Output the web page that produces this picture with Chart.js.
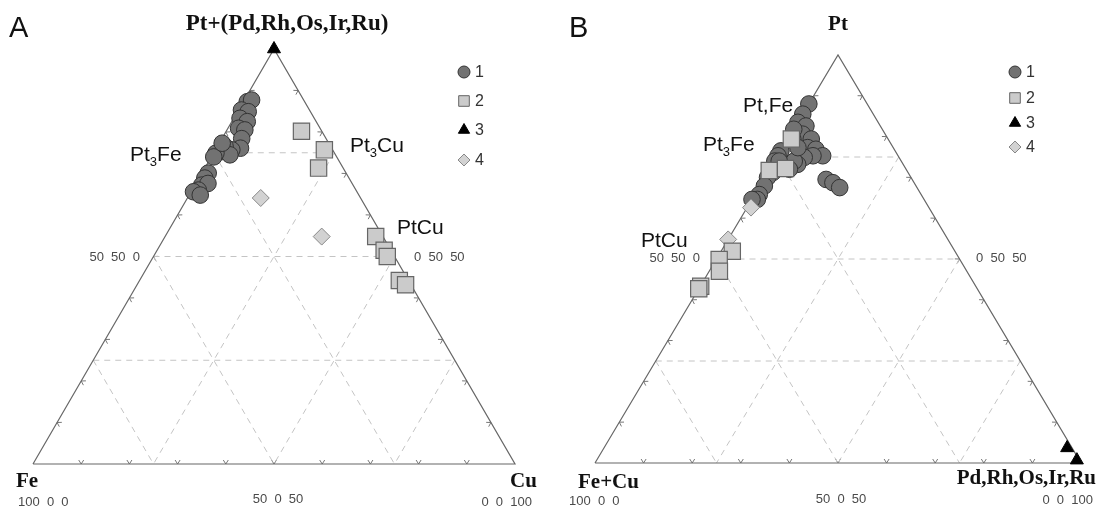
<!DOCTYPE html>
<html><head><meta charset="utf-8">
<script src="https://cdn.jsdelivr.net/npm/chart.js@4/dist/chart.umd.min.js"></script>
<style>
html,body{margin:0;padding:0;background:#fff;overflow:hidden}
#wrap{position:relative;width:1102px;height:510px;background:#fff}
canvas{position:absolute;top:0}
#cA{left:0}
#cB{left:551px}
</style></head><body>
<div id="wrap"><canvas id="cA" width="551" height="510"></canvas><canvas id="cB" width="551" height="510"></canvas></div>
<script>
// ---------- DATA (ternary compositions, %) ----------
const gridLevels = [25, 50, 75];
const tickLevels = [10, 20, 30, 40, 50, 60, 70, 80, 90];
const legendLabels = ['1', '2', '3', '4'];

// Panel A: [Pt+(Pd,Rh,Os,Ir,Ru), Fe, Cu]
const aSeries1 = [
  [87.3,11.9,0.8],[87.7,10.8,1.5],[85.3,14.1,0.6],[84.9,12.9,2.2],[83.3,15.4,1.3],
  [82.5,14.3,3.2],[80.9,16.9,2.2],[80.5,15.8,3.7],[78.4,17.5,4.1],[76.1,18.9,5.0],
  [75.7,20.9,3.4],[76.5,21.9,1.6],[75.3,23.1,1.6],[74.5,21.9,3.6],[74.9,24.6,0.5],
  [74.0,25.5,0.5],[77.3,22.1,0.6],[70.1,28.6,1.3],[68.9,29.9,1.2],[67.2,31.4,1.4],
  [67.6,29.9,2.5],[66.0,32.7,1.3],[65.6,33.9,0.5],[64.8,32.9,2.3]
];
const aSeries2 = [
  [80.2,4.2,15.6],[75.7,1.7,22.6],[71.3,5.1,23.6],[54.8,1.5,43.7],
  [51.5,1.4,47.1],[50.0,1.5,48.5],[44.2,1.9,53.9],[43.2,1.1,55.7]
];
const aSeries3 = [[100,0,0]];
const aSeries4 = [[64.1,20.7,15.2],[54.8,12.7,32.5]];

// Panel B: [Pt, Fe+Cu, Pd,Rh,Os,Ir,Ru]
const bSeries1 = [
  [88.0,12.0,0.0],[85.5,14.5,0.0],[83.5,16.5,0.0],[82.6,15.3,2.1],[80.6,17.0,2.4],
  [79.4,15.8,4.8],[77.3,17.6,5.1],[76.9,16.1,7.0],[75.3,15.5,9.2],[75.3,17.5,7.2],
  [74.9,19.5,5.6],[73.2,21.7,5.1],[74.0,22.0,4.0],[69.5,17.7,12.8],[68.7,16.7,14.6],
  [67.5,15.9,16.6],[76.5,23.5,0.0],[75.3,24.7,0.0],[74.0,26.0,0.0],[74.0,25.1,0.9],
  [71.2,27.8,1.0],[70.0,29.5,0.5],[67.9,31.2,0.9],[65.8,33.3,0.9],[64.6,34.3,1.1],
  [79.4,19.6,1.0],[77.3,19.6,3.1],[72.0,24.0,4.0],[64.6,35.4,0.0],[81.8,18.2,0.0]
];
const bSeries2 = [
  [79.4,19.9,0.7],[71.7,28.3,0.0],[72.2,24.7,3.1],[51.9,45.8,2.3],
  [49.9,49.5,0.6],[47.0,50.9,2.1],[43.3,56.6,0.1],[42.7,57.3,0.0]
];
const bSeries3 = [[3.7,1.0,95.3],[0.7,0.5,98.8]];
const bSeries4 = [[62.6,36.6,0.8],[54.8,45.2,0.0]];

// ---------- STYLE / LAYOUT ----------
const W = 551, H = 510;
const SERIF = '"Liberation Serif","Times New Roman",serif';
const SANS = '"Liberation Sans",Arial,sans-serif';
const seriesStyles = [
  {pointStyle:'circle',   radius:8.3,  bg:'#727272', border:'#333333', bw:1,   order:5, lr:6},
  {pointStyle:'rect',     radius:11.5, bg:'#cbcbcb', border:'#666666', bw:1.2, order:2, lr:7.5},
  {pointStyle:'triangle', radius:7.5,  bg:'#000000', border:'#000000', bw:1,   order:1, lr:6.5},
  {pointStyle:'rectRot',  radius:8.5,  bg:'#d2d2d2', border:'#888888', bw:1,   order:3, lr:6}
];

function tern(p) {
  const s = p[0] + p[1] + p[2];
  return {x: (p[2] + p[0] / 2) / s, y: p[0] / s};
}

function buildChart(canvasId, geo, series, decor) {
  const ux = geo.right - geo.left, uy = geo.base - geo.apexY;
  const xmin = -geo.left / ux, xmax = xmin + W / ux;
  const ymax = 1 + geo.apexY / uy, ymin = ymax - H / uy;

  const datasets = [];
  datasets.push({data: [[0,100,0],[0,0,100],[100,0,0],[0,100,0]].map(tern), showLine:true,
    borderColor:'#676767', borderWidth:1.2, pointRadius:0, order:10, clip:false, fill:false});
  gridLevels.forEach(L => {
    const M = 100 - L;
    [[[L,M,0],[L,0,M]], [[M,L,0],[0,L,M]], [[M,0,L],[0,M,L]]].forEach(seg => {
      datasets.push({data: seg.map(tern), showLine:true, borderColor:'#c4c4c4', borderWidth:1,
        borderDash:[6,5], pointRadius:0, order:20, clip:false, fill:false});
    });
  });
  series.forEach((s, i) => {
    const st = seriesStyles[i];
    datasets.push({label: legendLabels[i], data: s.map(tern), showLine:false,
      pointStyle: st.pointStyle, pointRadius: st.radius, backgroundColor: st.bg,
      borderColor: st.border, pointBorderWidth: st.bw, order: st.order, clip:false});
  });

  const decorPlugin = {
    id: 'decor' + canvasId,
    beforeDatasetsDraw(chart) {
      const ctx = chart.ctx, xs = chart.scales.x, ys = chart.scales.y;
      const P = p => { const t = tern(p); return [xs.getPixelForValue(t.x), ys.getPixelForValue(t.y)]; };
      const vL = P([0,100,0]), vR = P([0,0,100]), vT = P([100,0,0]);
      const cen = [(vL[0]+vR[0]+vT[0])/3, (vL[1]+vR[1]+vT[1])/3];
      ctx.save();
      ctx.strokeStyle = '#777'; ctx.lineWidth = 1;
      [[vL, vR], [vL, vT], [vT, vR]].forEach(([a, b]) => {
        const len = Math.hypot(b[0]-a[0], b[1]-a[1]);
        const t = [(b[0]-a[0])/len, (b[1]-a[1])/len];
        let n = [-t[1], t[0]];
        const mid = [(a[0]+b[0])/2, (a[1]+b[1])/2];
        if ((cen[0]-mid[0])*n[0] + (cen[1]-mid[1])*n[1] < 0) n = [-n[0], -n[1]];
        tickLevels.forEach(lv => {
          const f = lv / 100;
          const q = [a[0] + (b[0]-a[0])*f, a[1] + (b[1]-a[1])*f];
          ctx.beginPath();
          ctx.moveTo(q[0] + n[0]*4 - t[0]*2.5, q[1] + n[1]*4 - t[1]*2.5);
          ctx.lineTo(q[0], q[1]);
          ctx.lineTo(q[0] + n[0]*4 + t[0]*2.5, q[1] + n[1]*4 + t[1]*2.5);
          ctx.stroke();
        });
      });
      ctx.restore();
    },
    afterDraw(chart) {
      const ctx = chart.ctx;
      ctx.save();
      ctx.textBaseline = 'alphabetic';
      decor.texts.forEach(tx => {
        const segs = tx.segs || [{t: tx.text}];
        let total = 0;
        segs.forEach(s => {
          ctx.font = (tx.weight || 'normal') + ' ' + (s.sub ? Math.round(tx.size * 0.64) : tx.size) + 'px ' + tx.family;
          s.w = ctx.measureText(s.t).width; total += s.w;
        });
        let cx = tx.align === 'right' ? tx.x - total : tx.align === 'center' ? tx.x - total / 2 : tx.x;
        ctx.fillStyle = tx.color || '#111';
        ctx.textAlign = 'left';
        segs.forEach(s => {
          ctx.font = (tx.weight || 'normal') + ' ' + (s.sub ? Math.round(tx.size * 0.64) : tx.size) + 'px ' + tx.family;
          ctx.fillText(s.t, cx, s.sub ? tx.y + tx.size * 0.22 : tx.y);
          cx += s.w;
        });
      });
      const lg = decor.legend;
      legendLabels.forEach((lab, i) => {
        const st = seriesStyles[i];
        ctx.fillStyle = st.bg; ctx.strokeStyle = st.border; ctx.lineWidth = 1;
        Chart.helpers.drawPoint(ctx, {pointStyle: st.pointStyle, radius: st.lr, rotation: 0, borderWidth: 1},
          lg.x, lg.ys[i]);
        ctx.fillStyle = '#333';
        ctx.font = '16px ' + SANS;
        ctx.textBaseline = 'middle';
        ctx.fillText(lab, lg.x + 11, lg.ys[i] + 1);
        ctx.textBaseline = 'alphabetic';
      });
      ctx.restore();
    }
  };

  return new Chart(document.getElementById(canvasId), {
    type: 'scatter',
    data: {datasets},
    options: {
      responsive: false, animation: false, events: [],
      layout: {padding: 0, autoPadding: false},
      scales: {
        x: {type:'linear', min:xmin, max:xmax, display:false},
        y: {type:'linear', min:ymin, max:ymax, display:false}
      },
      plugins: {legend:{display:false}, tooltip:{enabled:false}, title:{display:false}}
    },
    plugins: [decorPlugin]
  });
}

const numStyle = {family: SANS, size: 13, color: '#4a4a4a'};
const labStyle = {family: SANS, size: 21, color: '#111'};
const vtxStyle = {family: SERIF, size: 21, weight: 'bold', color: '#111'};

buildChart('cA', {left:33, right:515, base:464, apexY:49},
  [aSeries1, aSeries2, aSeries3, aSeries4], {
  legend: {x: 464, ys: [72, 101, 130, 160]},
  texts: [
    {text:'A', x:9, y:37, family:SANS, size:29, color:'#111'},
    Object.assign({text:'Pt+(Pd,Rh,Os,Ir,Ru)', x:287, y:30, align:'center'}, vtxStyle, {size:23}),
    Object.assign({text:'Fe', x:16, y:487}, vtxStyle),
    Object.assign({text:'Cu', x:510, y:487}, vtxStyle),
    Object.assign({text:'100  0  0', x:18, y:506}, numStyle),
    Object.assign({text:'50  0  50', x:278, y:503, align:'center'}, numStyle),
    Object.assign({text:'0  0  100', x:532, y:506, align:'right'}, numStyle),
    Object.assign({text:'50  50  0', x:140, y:261, align:'right'}, numStyle),
    Object.assign({text:'0  50  50', x:414, y:261}, numStyle),
    Object.assign({segs:[{t:'Pt'},{t:'3',sub:true},{t:'Fe'}], x:130, y:161}, labStyle),
    Object.assign({segs:[{t:'Pt'},{t:'3',sub:true},{t:'Cu'}], x:350, y:152}, labStyle),
    Object.assign({text:'PtCu', x:397, y:234}, labStyle)
  ]
});

buildChart('cB', {left:44, right:530, base:463, apexY:55},
  [bSeries1, bSeries2, bSeries3, bSeries4], {
  legend: {x: 464, ys: [72, 98, 123, 147]},
  texts: [
    {text:'B', x:18, y:37, family:SANS, size:29, color:'#111'},
    Object.assign({text:'Pt', x:287, y:30, align:'center'}, vtxStyle),
    Object.assign({text:'Fe+Cu', x:27, y:488}, vtxStyle),
    Object.assign({text:'Pd,Rh,Os,Ir,Ru', x:545, y:484, align:'right'}, vtxStyle),
    Object.assign({text:'100  0  0', x:18, y:505}, numStyle),
    Object.assign({text:'50  0  50', x:290, y:503, align:'center'}, numStyle),
    Object.assign({text:'0  0  100', x:542, y:504, align:'right'}, numStyle),
    Object.assign({text:'50  50  0', x:149, y:262, align:'right'}, numStyle),
    Object.assign({text:'0  50  50', x:425, y:262}, numStyle),
    Object.assign({text:'Pt,Fe', x:192, y:112}, labStyle),
    Object.assign({segs:[{t:'Pt'},{t:'3',sub:true},{t:'Fe'}], x:152, y:151}, labStyle),
    Object.assign({text:'PtCu', x:90, y:247}, labStyle)
  ]
});
</script>
</body></html>
